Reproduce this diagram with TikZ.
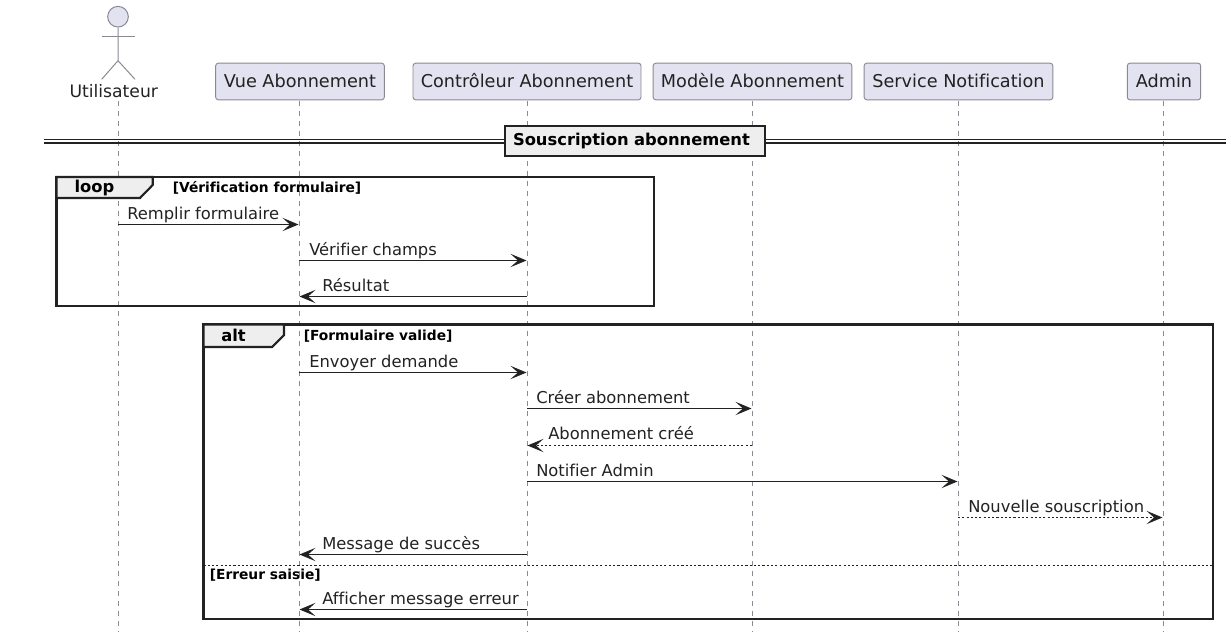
\documentclass[tikz,border=0pt]{standalone}
\usepackage{fontspec}
\setmainfont[Ligatures=NoCommon]{DejaVu Sans}
\usetikzlibrary{arrows.meta}
\definecolor{partfill}{HTML}{E2E2F0}
\definecolor{partline}{HTML}{8A8A94}
\definecolor{ink}{HTML}{222222}
\definecolor{tabfill}{HTML}{EEEEEE}
\tikzset{
  x=0.75pt,y=-0.75pt,
  part/.style={draw=partline,fill=partfill,rounded corners=2pt,line width=0.7pt,minimum height=27.5pt,inner sep=0pt},
  parttext/.style={font=\fontsize{13.25pt}{15pt}\selectfont,text=ink,inner sep=0pt,anchor=base},
  lifeline/.style={draw=partline,line width=0.7pt,dash pattern=on 3.75pt off 3.75pt},
  actorline/.style={draw=partline,line width=0.75pt},
  msg/.style={draw=ink,line width=0.75pt,-{Stealth[length=12pt,width=10pt,inset=5.6pt]}},
  rmsg/.style={msg,dash pattern=on 1.6pt off 1.6pt},
  msgtext/.style={font=\fontsize{12.25pt}{14pt}\selectfont,text=ink,inner sep=0pt,anchor=base west},
  frameline/.style={draw=ink,line width=1.6pt},
  tabtext/.style={font=\bfseries\fontsize{12.25pt}{14pt}\selectfont,inner sep=0pt,text=black,anchor=base},
  guard/.style={font=\bfseries\fontsize{10.35pt}{12pt}\selectfont,inner sep=0pt,anchor=base west,text=black},
}
\begin{document}
\begin{tikzpicture}
\useasboundingbox (0,0) rectangle (1231,632);
% lifeline ends
\coordinate (ue) at (118,632);
\coordinate (ut) at (118,101);
\node[part,minimum width=126.5pt] (vue) at (300,81.5) {};
\node[part,minimum width=171pt] (ctl) at (527,81.5) {};
\node[part,minimum width=149pt] (mod) at (752.5,81.5) {};
\node[part,minimum width=141.5pt] (svc) at (958.5,81.5) {};
\node[part,minimum width=55pt] (adm) at (1164,81.5) {};
\node[parttext] (vuet) at (300,87.7) {Vue Abonnement};
\node[parttext] (ctlt) at (527,87.7) {Contrôleur Abonnement};
\node[parttext] (modt) at (752.5,87.7) {Modèle Abonnement};
\node[parttext] (svct) at (958.5,87.7) {Service Notification};
\node[parttext] (admt) at (1164,87.7) {Admin};
\coordinate (vb) at (299,632);
\coordinate (cb) at (527,632);
\coordinate (mb) at (752,632);
\coordinate (sb) at (958,632);
\coordinate (ab) at (1163,632);
\draw[lifeline] (ut) -- (ue);
\draw[lifeline] (299,101) -- (vb);
\draw[lifeline] (527,101) -- (cb);
\draw[lifeline] (752,101) -- (mb);
\draw[lifeline] (958,101) -- (sb);
\draw[lifeline] (1163,101) -- (ab);
% actor
\node[draw=partline,fill=partfill,circle,minimum size=15.5pt,inner sep=0pt,line width=0.75pt] (head) at (118,16.7) {};
\draw[actorline] (head.south) -- (118,60.7) -- (101.7,79.3);
\draw[actorline] (118,60.7) -- (135,79.3);
\draw[actorline] (101.7,36.7) -- (135,36.7);
\node[parttext,font=\fontsize{12.9pt}{15pt}\selectfont] (usr) at (113.8,97.5) {Utilisateur};
% divider
\draw[draw=ink,line width=1pt] (44,139.3) -- (1226,139.3);
\draw[draw=ink,line width=1pt] (44,142.9) -- (1226,142.9);
\node[draw=ink,fill=tabfill,line width=1.6pt,inner xsep=6pt,inner ysep=0pt,text width=183pt,align=left,minimum height=22.5pt,font=\bfseries\fontsize{12.25pt}{14pt}\selectfont] (sec) at (635,140.7) {Souscription abonnement};
% loop frame
\draw[frameline] (56.5,177) rectangle (654,306);
\draw[frameline,fill=tabfill] (56.5,177) -- (152.7,177) -- (152.7,185) -- (140,198) -- (56.5,198) -- cycle;
\node[tabtext] (lt) at (94.5,192) {loop};
\node[guard] (lg) at (172.5,192.5) {[Vérification formulaire]};
% alt frame
\draw[frameline] (203.5,324.5) rectangle (1213,619.3);
\draw[frameline,fill=tabfill] (203.5,324.5) -- (284,324.5) -- (284,335) -- (272,347) -- (203.5,347) -- cycle;
\node[tabtext] (at) at (233.5,341) {alt};
\node[guard] (ag) at (303.5,340) {[Formulaire valide]};
\draw[draw=ink,line width=0.75pt,dash pattern=on 1.6pt off 1.6pt] (203.5,565.5) -- (1213,565.5);
\node[guard] (eg) at (209.5,579) {[Erreur saisie]};
% messages
\draw[msg] (118,224.5) -- (298.5,224.5);
\node[msgtext] at (127,219) {Remplir formulaire};
\draw[msg] (299,260.5) -- (526.5,260.5);
\node[msgtext] at (309,255.5) {Vérifier champs};
\draw[msg] (527,296.5) -- (299.5,296.5);
\node[msgtext] at (322,291.5) {Résultat};
\draw[msg] (299,372.5) -- (526.5,372.5);
\node[msgtext] at (309,367.5) {Envoyer demande};
\draw[msg] (527,408.5) -- (751.5,408.5);
\node[msgtext] at (536,403.5) {Créer abonnement};
\draw[rmsg] (752,445.5) -- (527.5,445.5);
\node[msgtext] at (548,439.5) {Abonnement créé};
\draw[msg] (527,481.5) -- (957.5,481.5);
\node[msgtext] at (536,476) {Notifier Admin};
\draw[rmsg] (958,517.5) -- (1162.5,517.5);
\node[msgtext] at (968,512.5) {Nouvelle souscription};
\draw[msg] (527,554.5) -- (299.5,554.5);
\node[msgtext] at (322,549) {Message de succès};
\draw[msg] (527,609.5) -- (299.5,609.5);
\node[msgtext] at (322,604) {Afficher message erreur};
\end{tikzpicture}
\end{document}
